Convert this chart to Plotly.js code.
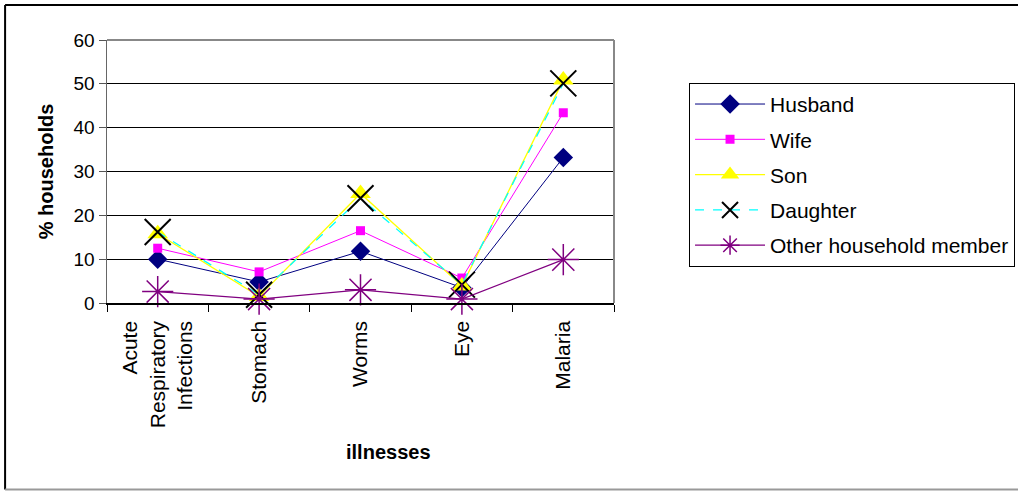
<!DOCTYPE html>
<html>
<head>
<meta charset="utf-8">
<script src="https://cdn.plot.ly/plotly-3.0.1.min.js"></script>
<style>html,body{margin:0;padding:0;background:#fff;}#chart{width:1018px;height:491px;}</style>
</head>
<body>
<div id="chart"></div>
<script>
var categories = ["Acute<br>Respiratory<br>Infections", "Stomach", "Worms", "Eye", "Malaria"];
var husband = [10, 4.8, 11.8, 3.5, 33.2];
var wife = [12.5, 7.1, 16.5, 5.7, 43.4];
var son = [15.8, 1.5, 25, 3.9, 50.9];
var daughter = [16.2, 1.9, 23.9, 4.2, 50.1];
var other = [2.6, 0.9, 3.0, 0.9, 9.9];
var seriesNames = ["Husband", "Wife", "Son", "Daughter", "Other household member"];

var font = "Liberation Sans, Arial, sans-serif";
var traces = [
  {x: categories, y: husband, name: seriesNames[0], legendgroup: "a", mode: "lines+markers",
   line: {color: "#000080", width: 1}, marker: {symbol: "diamond", size: 15, color: "#000080"}, cliponaxis: false},
  {x: categories, y: wife, name: seriesNames[1], legendgroup: "b", mode: "lines+markers",
   line: {color: "#FF00FF", width: 1}, marker: {symbol: "square", size: 9, color: "#FF00FF"}, cliponaxis: false},
  {x: categories, y: son, name: seriesNames[2], legendgroup: "c", mode: "lines+markers",
   line: {color: "#FFFF00", width: 1.3}, marker: {symbol: "triangle-up", size: 18, color: "#FFFF00"}, cliponaxis: false},
  {x: categories, y: daughter, name: seriesNames[3], legendgroup: "d", mode: "lines+markers",
   line: {color: "#00FFFF", width: 1.3, dash: "dash"}, marker: {symbol: "x-thin-open", size: 26, color: "#000000", line: {color: "#000000", width: 2}}, cliponaxis: false},
  {x: categories, y: other, name: seriesNames[4], legendgroup: "e", mode: "lines+markers",
   line: {color: "#800080", width: 1.3}, marker: {symbol: "asterisk-open", size: 26, color: "#800080", line: {color: "#800080", width: 1.5}}, cliponaxis: false}
];

var layout = {
  width: 1018, height: 491,
  margin: {l: 107, r: 404, t: 40, b: 188, autoexpand: false},
  paper_bgcolor: "#ffffff", plot_bgcolor: "#ffffff",
  font: {family: font, color: "#000000", size: 20},
  showlegend: true,
  legend: {
    x: 1.148, xanchor: "left", y: 0.837, yanchor: "top",
    bordercolor: "#000000", borderwidth: 1, bgcolor: "#ffffff",
    font: {family: font, size: 21, color: "#000000"},
    tracegroupgap: 5, itemwidth: 70
  },
  xaxis: {
    type: "category",
    range: [-0.5, 4.5],
    tickangle: -90,
    tickfont: {family: font, size: 21},
    tickson: "boundaries",
    ticks: "outside", ticklen: 7, tickcolor: "#000000",
    ticklabelstandoff: 8,
    showline: true, linecolor: "#000000", linewidth: 1.5,
    showgrid: false, zeroline: false, automargin: false
  },
  yaxis: {
    range: [0, 60], dtick: 10,
    tickfont: {family: font, size: 19},
    ticks: "outside", ticklen: 7, tickcolor: "#555555",
    showline: true, linecolor: "#666666", linewidth: 1.5,
    showgrid: true, gridcolor: "#000000", gridwidth: 1,
    zeroline: false, automargin: false,
    title: {text: "<b>% households</b>", font: {family: font, size: 20}, standoff: 14}
  },
  annotations: [
    {text: "<b>illnesses</b>", xref: "paper", yref: "paper", x: 0.556, y: -0.565,
     xanchor: "center", yanchor: "middle", showarrow: false, font: {family: font, size: 20}}
  ],
  shapes: [
    {type: "line", xref: "paper", yref: "paper", x0: 0, x1: 1, y0: 1, y1: 1, line: {color: "#888888", width: 2}},
    {type: "line", xref: "paper", yref: "paper", x0: 1, x1: 1, y0: 0, y1: 1, line: {color: "#888888", width: 2}},
    {type: "line", xref: "paper", yref: "paper", x0: -0.201, x1: -0.201, y0: -0.709, y1: 1.133, line: {color: "#000000", width: 2}},
    {type: "line", xref: "paper", yref: "paper", x0: -0.201, x1: 1.9, y0: 1.133, y1: 1.133, line: {color: "#000000", width: 2}},
    {type: "line", xref: "paper", yref: "paper", x0: -0.201, x1: 1.9, y0: -0.709, y1: -0.709, line: {color: "#999999", width: 2}}
  ]
};

Plotly.newPlot("chart", traces, layout, {displayModeBar: false, staticPlot: true});
</script>
</body>
</html>
